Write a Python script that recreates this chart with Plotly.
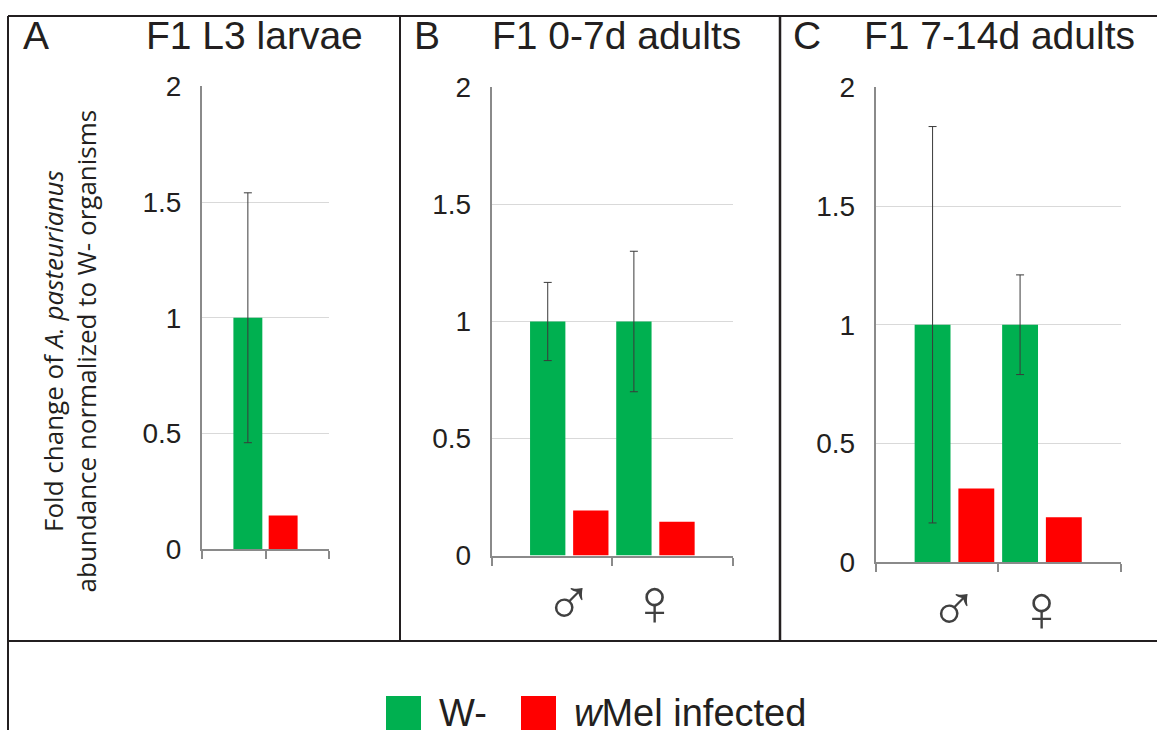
import plotly.graph_objects as go

# ---------------- data ----------------
panel_letters = ["A", "B", "C"]
panel_titles = ["F1 L3 larvae", "F1 0-7d adults", "F1 7-14d adults"]
series_names = ["W-", "<i>w</i>Mel infected"]

larvae_cats = [""]
larvae_wminus = [1.0]
larvae_wminus_err = [0.54]
larvae_wmel = [0.145]

sex_cats = ["♂", "♀"]
adults07_wminus = [1.0, 1.0]
adults07_wminus_err = [0.167, 0.30]
adults07_wmel = [0.193, 0.145]

adults714_wminus = [1.0, 1.0]
adults714_wminus_err = [0.835, 0.21]
adults714_wmel = [0.31, 0.189]

y_ticks = [0, 0.5, 1, 1.5, 2]

GREEN = "#00B050"
RED = "#FF0000"
TXT = "#231f20"
AXC = "#8a8a8a"
GRID = "#d9d9d9"

W, H = 1157, 746
def px(x):
    return x / W
def py(y):
    # layout position (figure pixels) -> paper fraction, with a vertical
    # correction measured on the photographed page
    yy = (y - 14) / 0.96
    yy = min(max(yy, 0.0), H)
    return 1 - yy / H

fig = go.Figure()

panels = [
    (larvae_cats, larvae_wminus, larvae_wminus_err, larvae_wmel),
    (sex_cats, adults07_wminus, adults07_wminus_err, adults07_wmel),
    (sex_cats, adults714_wminus, adults714_wminus_err, adults714_wmel),
]

for i, (cats, wm, err, wmel) in enumerate(panels):
    xs = list(range(len(cats)))
    sfx = "" if i == 0 else str(i + 1)
    fig.add_trace(go.Bar(
        x=xs, y=wm, name=series_names[0], marker=dict(color=GREEN, line=dict(width=0)),
        error_y=dict(type="data", array=err, visible=True, color="#3a3a3a", thickness=1, width=4),
        xaxis="x" + sfx, yaxis="y" + sfx, showlegend=False, offsetgroup="a"))
    fig.add_trace(go.Bar(
        x=xs, y=wmel, name=series_names[1], marker=dict(color=RED, line=dict(width=0)),
        xaxis="x" + sfx, yaxis="y" + sfx, showlegend=False, offsetgroup="b"))

# axis geometry (pixels)
xdom = [(202, 329), (491.7, 733), (875.7, 1120.7)]
ydom = [(549, 85.5), (555.5, 86.5), (562, 86.5)]
xranges = [[-0.9, 0.9], [-0.9, 1.9], [-0.9, 1.9]]

anns = []
for i in range(3):
    sfx = "" if i == 0 else str(i + 1)
    cats = panels[i][0]
    xr = xranges[i]
    if len(cats) > 1:
        minor_vals = [xr[0], 0.5, xr[1]]
    else:
        minor_vals = [xr[0], 0, xr[1]]
    fig.layout["xaxis" + sfx] = dict(
        domain=[px(xdom[i][0]), px(xdom[i][1])],
        anchor="y" + sfx, range=xr, showgrid=False, zeroline=False,
        showline=True, linecolor=AXC, linewidth=2,
        tickvals=list(range(len(cats))), ticks="", showticklabels=False,
        minor=dict(tickvals=minor_vals, ticks="outside", ticklen=8, tickcolor=AXC, tickwidth=2, showgrid=False),
        fixedrange=True,
    )
    fig.layout["yaxis" + sfx] = dict(
        domain=[py(ydom[i][0]), py(ydom[i][1])],
        anchor="x" + sfx, range=[0, 2], tickvals=y_ticks,
        showgrid=True, gridcolor=GRID, gridwidth=1, zeroline=False,
        showline=True, linecolor=AXC, linewidth=2, ticks="",
        ticklabelstandoff=13,
        tickfont=dict(family="Liberation Sans, Arial", size=28, color=TXT),
        fixedrange=True,
    )
    # category labels (sex symbols) under the axis
    if len(cats) > 1:
        for j, c in enumerate(cats):
            anns.append(dict(text=c, x=j, xref="x" + sfx, y=py(ydom[i][0] + 46), yref="paper",
                             xanchor="center", yanchor="middle", showarrow=False,
                             font=dict(family="Liberation Sans, Arial", size=66, color="#404040")))

letter_x = [21, 412, 791]
title_cx = [254.5, 616.5, 999]
for i in range(3):
    anns.append(dict(text=panel_letters[i], x=px(letter_x[i]), y=py(34.5), xref="paper", yref="paper",
                     xanchor="left", yanchor="middle", showarrow=False,
                     font=dict(family="Liberation Sans, Arial", size=39, color=TXT)))
    anns.append(dict(text=panel_titles[i], x=px(title_cx[i]), y=py(34.5), xref="paper", yref="paper",
                     xanchor="center", yanchor="middle", showarrow=False,
                     font=dict(family="Liberation Sans, Arial", size=39, color=TXT)))

# y-axis title
anns.append(dict(text="Fold change of <i>A. pasteurianus</i><br>abundance normalized to W- organisms",
                 x=px(70), y=py(351), xref="paper", yref="paper", textangle=-90,
                 xanchor="center", yanchor="middle", showarrow=False, align="center",
                 font=dict(family="Open Sans", size=26, color=TXT)))

# legend (manual)
shapes = []
leg = [(386, GREEN, series_names[0], 437), (521, RED, series_names[1], 572)]
for x0, col, name, tx in leg:
    shapes.append(dict(type="rect", xref="paper", yref="paper", x0=px(x0), x1=px(x0 + 35),
                       y0=py(731), y1=py(696), fillcolor=col, line=dict(width=0)))
    anns.append(dict(text=name, x=px(tx), y=py(713.5), xref="paper", yref="paper",
                     xanchor="left", yanchor="middle", showarrow=False,
                     font=dict(family="Liberation Sans, Arial", size=38, color=TXT)))

# panel borders
BC = "#231f20"
def line(x0, y0, x1, y1, w=2):
    shapes.append(dict(type="line", xref="paper", yref="paper", x0=px(x0), y0=y0,
                       x1=px(x1), y1=y1, line=dict(color=BC, width=w)))
top = 1 - 1.0 / H
line(8, top, 1157, top)
line(8, top, 8, 0)
line(400, top, 400, py(641))
line(780, top, 780, py(641), 2.5)
line(8, py(641), 1157, py(641))

fig.update_layout(
    width=W, height=H, margin=dict(l=0, r=0, t=0, b=0),
    paper_bgcolor="white", plot_bgcolor="white",
    barmode="group", bargap=0.0, bargroupgap=0.18,
    annotations=anns, shapes=shapes, showlegend=False,
)

fig.write_html(
    "out.html",
    config={"displayModeBar": False},
    post_script="document.body.style.margin='0';"
                "document.documentElement.style.overflow='hidden';"
                "document.body.style.overflow='hidden';",
)
